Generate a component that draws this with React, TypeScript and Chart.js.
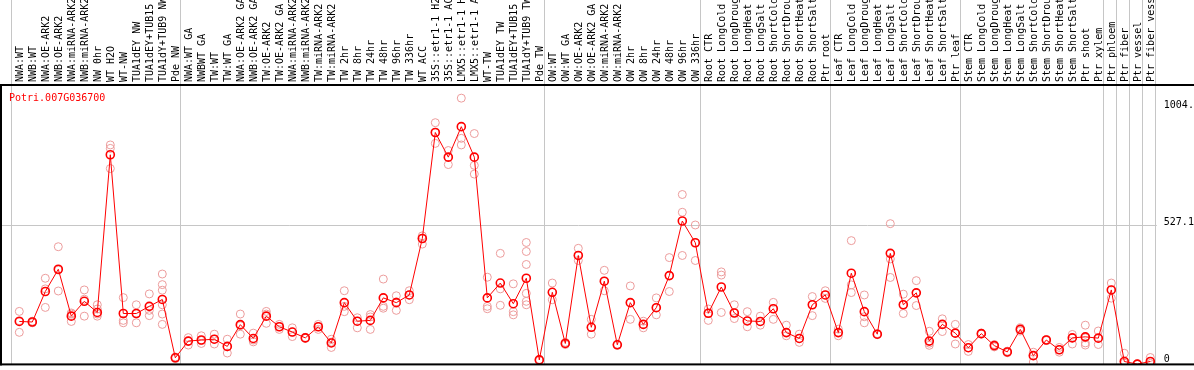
import React, { useEffect, useRef } from "react";
import { Chart, registerables } from "chart.js";

Chart.register(...registerables);

const geneTitle = "Potri.007G036700";

const categories = [
  "NWA:WT", "NWB:WT", "NWA:OE-ARK2", "NWB:OE-ARK2", "NWA:miRNA-ARK2", "NWB:miRNA-ARK2",
  "NW 0hr", "WT H2O", "WT-NW", "TUA1dEY NW", "TUA1dEY+TUB15 NW", "TUA1dY+TUB9 NW", "Pde NW",
  "NWA:WT GA", "NWBWT GA", "TW:WT", "TW:WT GA", "NWA:OE-ARK2 GA", "NWB:OE-ARK2 GA",
  "TW:OE-ARK2", "TW:OE-ARK2 GA", "NWA:miRNA-ARK2 GA", "NWB:miRNA-ARK2 GA", "TW:miRNA-ARK2",
  "TW:miRNA-ARK2 GA", "TW 2hr", "TW 8hr", "TW 24hr", "TW 48hr", "TW 96hr", "TW 336hr",
  "WT ACC", "35S::etr1-1 H2O", "35S::etr1-1 ACC", "LMX5::etr1-1 H2O", "LMX5::etr1-1 ACC",
  "WT-TW", "TUA1dEY TW", "TUA1dEY+TUB15 TW", "TUA1dY+TUB9 TW", "Pde TW",
  "OW:WT", "OW:WT GA", "OW:OE-ARK2", "OW:OE-ARK2 GA", "OW:miRNA-ARK2", "OW:miRNA-ARK2 GA",
  "OW 2hr", "OW 8hr", "OW 24hr", "OW 48hr", "OW 96hr", "OW 336hr",
  "Root CTR", "Root LongCold", "Root LongDrought", "Root LongHeat", "Root LongSalt",
  "Root ShortCold", "Root ShortDrought", "Root ShortHeat", "Root ShortSalt", "Ptr root",
  "Leaf CTR", "Leaf LongCold", "Leaf LongDrought", "Leaf LongHeat", "Leaf LongSalt",
  "Leaf ShortCold", "Leaf ShortDrought", "Leaf ShortHeat", "Leaf ShortSalt", "Ptr leaf",
  "Stem CTR", "Stem LongCold", "Stem LongDrought", "Stem LongHeat", "Stem LongSalt",
  "Stem ShortCold", "Stem ShortDrought", "Stem ShortHeat", "Stem ShortSalt", "Ptr shoot",
  "Ptr xylem", "Ptr phloem", "Ptr fiber", "Ptr vessel", "Ptr fiber vessel",
];

const means = [
  162, 160, 275, 359, 182, 238, 196, 791, 192, 192, 219, 245, 25,
  88, 92, 95, 68, 150, 98, 182, 142, 122, 100, 142, 81, 233, 163, 166, 251, 233, 262,
  475, 875, 782, 897, 782, 251, 307, 229, 325, 17,
  272, 79, 411, 140, 314, 74, 233, 151, 214, 335, 541, 459,
  193, 292, 194, 164, 162, 210, 120, 98, 225, 262,
  120, 344, 199, 114, 419, 225, 270, 88, 151, 118,
  63, 116, 71, 47, 132, 33, 92, 55, 100, 104, 99,
  281, 11, 1, 11,
];

const replicates = [
  [200, 165, 121], [157, 160, 163], [325, 285, 215], [444, 356, 277], [194, 190, 162],
  [281, 246, 182], [225, 209, 190, 182], [828, 815, 739], [252, 166, 157], [225, 192, 157],
  [266, 204, 184], [341, 301, 280, 225, 190, 151], [22, 25, 28],
  [101, 88, 73], [108, 90, 79], [114, 95, 77], [95, 66, 43], [190, 146, 114], [118, 92, 85],
  [200, 190, 155], [151, 142, 132], [138, 122, 105], [98, 100, 102], [151, 142, 132],
  [95, 84, 64], [278, 219, 199], [176, 163, 138], [188, 179, 132], [322, 219, 212],
  [259, 236, 204], [278, 262, 244],
  [485, 475, 454], [912, 875, 834], [807, 782, 754], [1004.6, 853, 828], [871, 751, 718],
  [329, 219, 210], [419, 285, 223], [304, 199, 187], [460, 426, 377, 268, 238, 225], [15, 17, 19],
  [307, 272, 244], [75, 79, 83], [438, 411, 392], [170, 140, 114], [355, 314, 278], [72, 74, 76],
  [296, 233, 170], [163, 151, 138], [251, 214, 187], [403, 335, 275], [641, 574, 411], [526, 459, 392],
  [209, 193, 166], [349, 337, 196], [225, 194, 173], [199, 164, 142], [182, 162, 148],
  [234, 210, 170], [148, 120, 108], [114, 98, 83], [256, 225, 184], [278, 262, 249],
  [133, 120, 108], [467, 300, 271], [262, 180, 157], [112, 114, 116], [531, 398, 328],
  [265, 225, 192], [316, 270, 222], [125, 80, 72], [172, 151, 124], [151, 118, 77],
  [75, 63, 49], [114, 116, 118], [75, 71, 66], [50, 47, 44], [138, 132, 126],
  [46, 33, 9], [90, 92, 94], [64, 55, 46], [113, 100, 77], [148, 100, 81, 73], [126, 99, 75],
  [307, 281, 250], [42, 11, 5], [0, 1, 2], [26, 11, 4],
];

// category counts after which a separator line is drawn (0 = before the first)
const groupBoundaries = [0, 13, 41, 53, 63, 73, 84, 85, 86, 87, 88];

const yTickValues = [0, 527.1, 1004.6];
const yTickLabels = ["0", "527.1", "1004."];
const yMax = 1054.2;

const FONT = '10px "DejaVu Sans Mono", monospace';

const decorPlugin = {
  id: "decor",
  beforeDatasetsDraw(chart: any) {
    const { ctx, chartArea, scales } = chart;
    const xs = scales.x;
    const ys = scales.y;
    ctx.save();
    ctx.strokeStyle = "#c6c6c6";
    ctx.lineWidth = 1;
    for (const b of groupBoundaries) {
      const x = Math.round(xs.getPixelForValue(b - 0.5) - 1.5) + 0.5;
      ctx.beginPath();
      ctx.moveTo(x, 0);
      ctx.lineTo(x, chartArea.bottom);
      ctx.stroke();
    }
    const gy = Math.round(ys.getPixelForValue(yTickValues[1])) + 0.5;
    ctx.beginPath();
    ctx.moveTo(0, gy);
    ctx.lineTo(chartArea.right, gy);
    ctx.stroke();
    ctx.restore();
  },
  afterDraw(chart: any) {
    const { ctx, chartArea, scales, width } = chart;
    const xs = scales.x;
    const ys = scales.y;
    ctx.save();
    // frame
    ctx.fillStyle = "#000";
    ctx.fillRect(0, chartArea.top - 1, width, 2);
    ctx.fillRect(0, chartArea.top - 1, 2, chartArea.bottom - chartArea.top + 2);
    ctx.fillRect(0, chartArea.bottom - 1, width, 2);

    // category labels (rotated)
    ctx.font = FONT;
    ctx.fillStyle = "#000";
    ctx.textAlign = "left";
    ctx.textBaseline = "alphabetic";
    categories.forEach((c, i) => {
      const x = xs.getPixelForValue(i);
      ctx.save();
      ctx.translate(x + 3.5, chartArea.top - 3);
      ctx.rotate(-Math.PI / 2);
      ctx.fillText(c, 0, 0);
      ctx.restore();
    });

    // title
    ctx.fillStyle = "#ff0000";
    ctx.fillText(geneTitle, 9, chartArea.top + 16);

    // y labels
    ctx.fillStyle = "#000";
    yTickValues.forEach((v, i) => {
      const py = ys.getPixelForValue(v);
      const dy = v === 0 ? -2.5 : v > yMax * 0.9 ? 10 : 0;
      ctx.fillText(yTickLabels[i], chartArea.right + 7, py + dy);
    });
    ctx.restore();
  },
};

export default function App() {
  const ref = useRef<HTMLCanvasElement>(null);
  useEffect(() => {
    const meanPoints = means.map((v, i) => ({ x: i, y: v }));
    const repPoints: { x: number; y: number }[] = [];
    replicates.forEach((arr, i) => arr.forEach((v) => repPoints.push({ x: i, y: v })));
    const chart = new Chart(ref.current!, {
      type: "line",
      data: {
        datasets: [
          {
            label: "mean",
            data: meanPoints,
            borderColor: "#ff0000",
            borderWidth: 1,
            pointRadius: 4,
            pointBorderWidth: 1.6,
            pointBorderColor: "#ff0000",
            pointBackgroundColor: "rgba(0,0,0,0)",
            tension: 0,
          },
          {
            label: "replicates",
            data: repPoints,
            showLine: false,
            pointRadius: 4,
            pointBorderWidth: 1,
            pointBorderColor: "#ec9c9c",
            pointBackgroundColor: "rgba(0,0,0,0)",
            borderColor: "#ec9c9c",
          },
        ],
      },
      options: {
        animation: false,
        responsive: false,
        events: [],
        layout: { padding: { left: 12.8, right: 37.2, top: 85, bottom: 1 } },
        scales: {
          x: { type: "linear", min: -0.5, max: 87.5, display: false },
          y: { type: "linear", min: 0, max: yMax, display: false },
        },
        plugins: { legend: { display: false }, tooltip: { enabled: false } },
      },
      plugins: [decorPlugin],
    });
    return () => chart.destroy();
  }, []);
  return (
    <div style={{ position: "fixed", left: 0, top: 0, width: 1194, height: 370, background: "#fff" }}>
      <canvas ref={ref} width={1194} height={370} style={{ display: "block" }} />
    </div>
  );
}
